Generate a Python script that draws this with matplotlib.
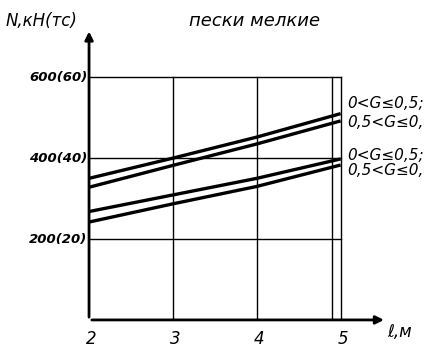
import matplotlib.pyplot as plt

# bearing capacity N vs pile length l, fine sands
lengths = [2, 3, 4, 5]
n_upper_a = [350, 400, 452, 510]   # 0<G<=0,5 (upper pair)
n_upper_b = [328, 382, 435, 492]   # 0,5<G<=0,8 (upper pair)
n_lower_a = [268, 309, 350, 398]   # 0<G<=0,5 (lower pair)
n_lower_b = [242, 287, 330, 383]   # 0,5<G<=0,8 (lower pair)

x_ticks = [2, 3, 4, 5]
y_ticks = [200, 400, 600]
y_labels = ['200(20)', '400(40)', '600(60)']
curve_labels = ['0<G≤0,5;', '0,5<G≤0,8', '0<G≤0,5;', '0,5<G≤0,8']

fig = plt.figure(figsize=(4.24, 3.47), dpi=100)
ax = fig.add_axes([0.21, 0.078, 0.712, 0.851])
ax.set_xlim(2, 5.6)
ax.set_ylim(0, 730)
ax.set_axis_off()

fnt = dict(family='DejaVu Sans', style='italic', color='k')

# grid
for y in y_ticks:
    ax.plot([2, 5], [y, y], color='k', lw=1.0)
for x in [3, 4, 4.9, 5]:
    ax.plot([x, x], [0, 600], color='k', lw=1.0)

# axes with arrows
ax.annotate('', xy=(5.55, 0), xytext=(2, 0),
            arrowprops=dict(arrowstyle='-|>', lw=2, color='k', mutation_scale=12),
            annotation_clip=False)
ax.annotate('', xy=(2, 720), xytext=(2, 0),
            arrowprops=dict(arrowstyle='-|>', lw=2, color='k', mutation_scale=12),
            annotation_clip=False)

# curves
for ys in [n_upper_a, n_upper_b, n_lower_a, n_lower_b]:
    ax.plot(lengths, ys, color='k', lw=2.4, solid_capstyle='butt')

# curve labels on the right
for ys, lab, dy in zip([n_upper_a, n_upper_b, n_lower_a, n_lower_b], curve_labels,
                       [24, -5, 8, -14]):
    ax.text(5.08, ys[-1] + dy, lab, fontsize=11, va='center', ha='left',
            clip_on=False, **fnt)

# tick labels
for y, lab in zip(y_ticks, y_labels):
    ax.text(1.98, y, lab, fontsize=9.5, ha='right', va='center', weight='bold', **fnt)
for x in x_ticks:
    ax.text(x + 0.03, -25, str(x), fontsize=12, ha='center', va='top', **fnt)

ax.text(5.56, -8, 'ℓ,м', fontsize=12, ha='left', va='top', clip_on=False, **fnt)
fig.text(0.012, 0.94, 'N,кН(тс)', fontsize=12, ha='left', va='center', **fnt)
fig.text(0.6, 0.94, 'пески мелкие', fontsize=13, ha='center', va='center', **fnt)

fig.savefig('out.png', dpi=100)
